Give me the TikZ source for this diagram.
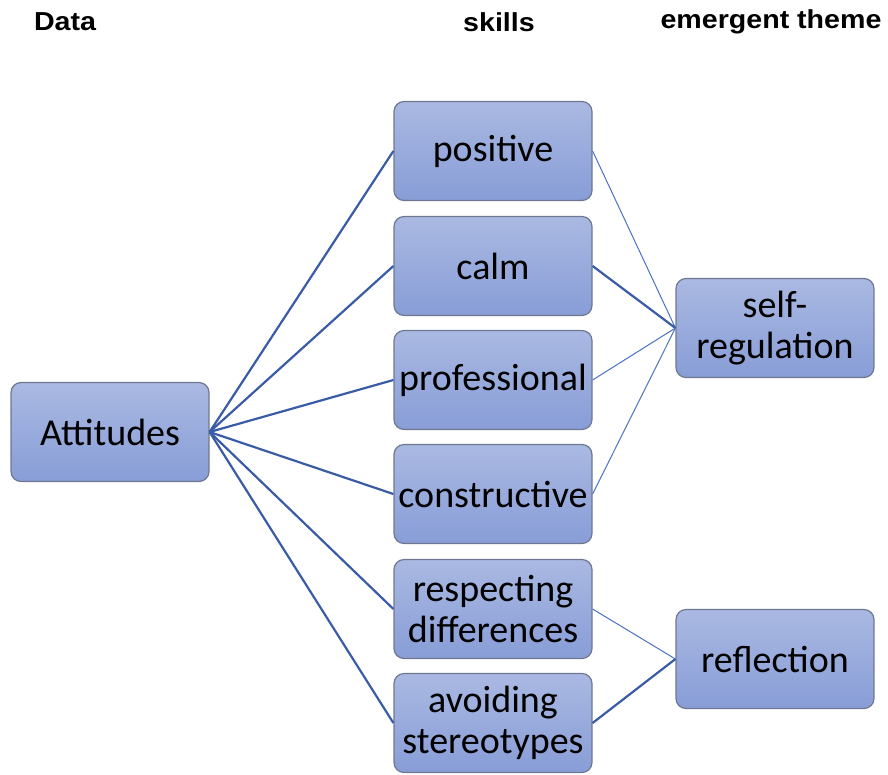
\documentclass[tikz,border=0pt]{standalone}
\usepackage{fontspec}
\setmainfont{Carlito}
\newfontfamily\headfont{Liberation Sans}
\definecolor{boxtop}{HTML}{AAB9E2}
\definecolor{boxbot}{HTML}{889DD7}
\definecolor{boxline}{HTML}{6E7890}
\definecolor{linkblue}{HTML}{3A5BA6}
\definecolor{thinblue}{HTML}{4A72C4}
\begin{document}
\begin{tikzpicture}[x=1pt,y=-1pt,
  item/.style={draw=boxline,line width=1.2pt,rounded corners=10pt,top color=boxtop,bottom color=boxbot,
    minimum width=198pt,minimum height=99pt,inner sep=0pt,align=center,
    font=\fontsize{38}{41}\selectfont},
  head/.style={font=\headfont\bfseries\fontsize{26}{30}\selectfont,xscale=1.1},
  link/.style={draw=linkblue,line width=2.2pt},
  thin/.style={draw=thinblue,line width=1pt}]
\useasboundingbox (0,0) rectangle (888,774);

\node[head] (hdata) at (65,22) {Data};
\node[head] (hskills) at (499,22) {skills};
\node[head] (htheme) at (771,22) {emergent theme};

\node[item] (att) at (110,432) {Attitudes};

\node[item] (pos) at (493,151) {positive};
\node[item] (calm) at (493,266) {calm};
\node[item] (prof) at (493,380) {professional};
\node[item] (cons) at (493,494) {constructive};
\node[item] (resp) at (493,609) {respecting\\differences};
\node[item] (avoid) at (493,723) {avoiding\\stereotypes};

\node[item] (self) at (775,328) {self-\\regulation};
\node[item] (refl) at (775,659) {reflection};

\foreach \n in {pos,calm,prof,cons,resp,avoid}
  \draw[link] (att.east) -- (\n.west);

\draw[thin] (pos.east) -- (self.west);
\draw[link] (calm.east) -- (self.west);
\draw[thin] (prof.east) -- (self.west);
\draw[thin] (cons.east) -- (self.west);
\draw[thin] (resp.east) -- (refl.west);
\draw[link] (avoid.east) -- (refl.west);
\end{tikzpicture}
\end{document}
